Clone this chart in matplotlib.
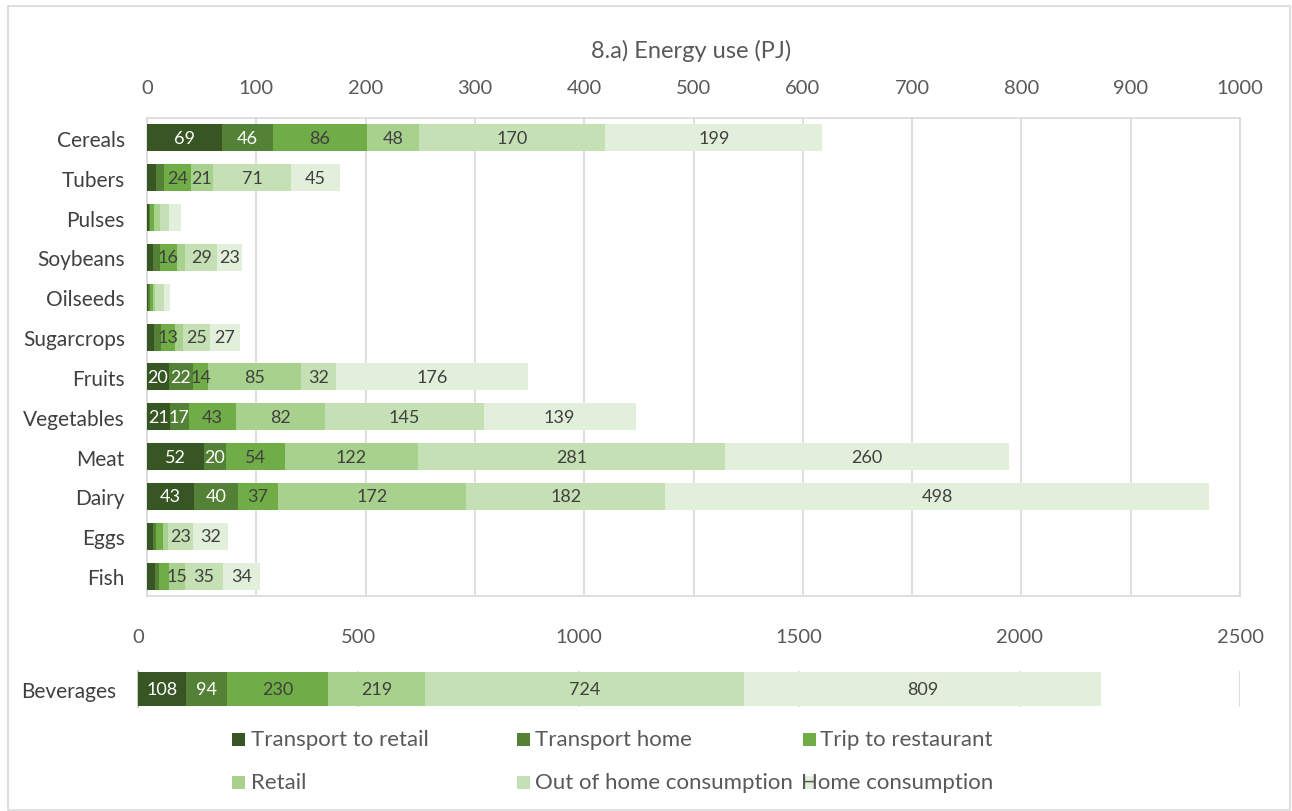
import matplotlib
matplotlib.use('Agg')
import matplotlib.pyplot as plt
from matplotlib.patches import Rectangle
import numpy as np

plt.rcParams['font.family'] = ['Lato', 'DejaVu Sans']

# ---------------- data ----------------
categories = ['Cereals', 'Tubers', 'Pulses', 'Soybeans', 'Oilseeds', 'Sugarcrops',
              'Fruits', 'Vegetables', 'Meat', 'Dairy', 'Eggs', 'Fish']
transport_retail = [69, 8.5, 1.8, 5.5, 1.2, 6.1, 20, 21, 52, 43, 5.2, 7.6]
transport_home = [46, 7.3, 1.2, 6.1, 1.2, 6.7, 22, 17, 20, 40, 3.0, 3.7]
trip_restaurant = [86, 24, 3.7, 16, 3.0, 13, 14, 43, 54, 37, 6.4, 8.5]
retail = [48, 21, 4.9, 7.6, 1.8, 7.0, 85, 82, 122, 172, 4.6, 15]
out_of_home = [170, 71, 8.8, 29, 8.5, 25, 32, 145, 281, 182, 23, 35]
home = [199, 45, 10.6, 23, 5.8, 27, 176, 139, 260, 498, 32, 34]

bev_category = 'Beverages'
bev_values = [108, 94, 230, 219, 724, 809]

series_names = ['Transport to retail', 'Transport home', 'Trip to restaurant',
                'Retail', 'Out of home consumption', 'Home consumption']
series_colors = ['#375623', '#538135', '#70AD47', '#A9D18E', '#C5E0B4', '#E2EFDA']
label_colors = ['white', 'white', '#404040', '#404040', '#404040', '#404040']

main_ticks = list(range(0, 1001, 100))
bev_ticks = list(range(0, 2501, 500))

# ---------------- layout helpers ----------------
W, H = 1292, 812
def fx(px): return px / W
def fy(py): return 1 - py / H

fig = plt.figure(figsize=(W / 100, H / 100), dpi=100)
fig.patches.append(Rectangle((fx(8), fy(811)), fx(1290) - fx(8), fy(7) - fy(811),
                             transform=fig.transFigure, fill=False,
                             edgecolor='#d9d9d9', lw=1.2))

grid_col = '#d9d9d9'
tick_col = '#595959'
cat_col = '#404040'

# ---------------- main chart ----------------
ax = fig.add_axes([fx(147), fy(597), fx(1240) - fx(147), fy(119) - fy(597)])
all_series = [transport_retail, transport_home, trip_restaurant, retail, out_of_home, home]
ypos = np.arange(len(categories))
left = np.zeros(len(categories))
for vals, name, col, lcol in zip(all_series, series_names, series_colors, label_colors):
    vals = np.array(vals, dtype=float)
    bars = ax.barh(ypos, vals, left=left, height=0.68, color=col, edgecolor='none', zorder=3)
    for b, v in zip(bars, vals):
        if v >= 12:
            ax.text(b.get_x() + b.get_width() / 2, b.get_y() + b.get_height() / 2,
                    f'{v:.0f}', ha='center', va='center', fontsize=13, color=lcol, zorder=4)
    left += vals

ax.set_xlim(0, 1000)
ax.set_ylim(len(categories) - 0.5, -0.5)
ax.xaxis.tick_top()
ax.set_xticks(main_ticks)
ax.set_xticklabels([str(t) for t in main_ticks])
ax.set_yticks(ypos)
ax.set_yticklabels(categories)
ax.tick_params(axis='x', length=0, pad=16, labelsize=14.5, colors=tick_col)
ax.tick_params(axis='y', length=0, pad=16, labelsize=15, colors=cat_col)
ax.grid(axis='x', color=grid_col, lw=1.2, zorder=0)
ax.set_axisbelow(True)
for s in ax.spines.values():
    s.set_color(grid_col)
    s.set_linewidth(1.2)

fig.text(fx(691), fy(51), '8.a) Energy use (PJ)', ha='center', va='center',
         fontsize=17, color=tick_col)

# ---------------- beverages chart ----------------
ax2 = fig.add_axes([fx(138), fy(708), fx(1240) - fx(138), fy(672) - fy(708)])
bl = 0.0
for v, col, lcol in zip(bev_values, series_colors, label_colors):
    ax2.barh([0], [v], left=bl, height=0.95, color=col, edgecolor='none', zorder=3)
    ax2.text(bl + v / 2, 0, f'{v}', ha='center', va='center', fontsize=13,
             color=lcol, zorder=4)
    bl += v
ax2.set_xlim(0, 2500)
ax2.set_ylim(-0.5, 0.5)
ax2.xaxis.tick_top()
ax2.set_xticks(bev_ticks)
ax2.set_xticklabels([str(t) for t in bev_ticks])
ax2.set_yticks([0])
ax2.set_yticklabels([bev_category])
ax2.tick_params(axis='x', length=0, pad=19, labelsize=14.5, colors=tick_col)
ax2.tick_params(axis='y', length=0, pad=16, labelsize=15, colors=cat_col)
ax2.grid(axis='x', color=grid_col, lw=1.2, zorder=0)
ax2.set_axisbelow(True)
for k, s in ax2.spines.items():
    if k == 'left':
        s.set_color('#bfbfbf')
        s.set_linewidth(1.2)
    else:
        s.set_visible(False)

# ---------------- legend ----------------
leg_marker_x = [232, 517, 803, 232, 517, 803]
leg_text_x = [251, 535, 820, 251, 535, 801]
leg_y = [740, 740, 740, 783, 783, 783]
for name, col, mx, tx, ly in zip(series_names, series_colors, leg_marker_x, leg_text_x, leg_y):
    fig.patches.append(Rectangle((fx(mx), fy(ly + 6.5)), fx(13), 13 / H,
                                 transform=fig.transFigure, facecolor=col, edgecolor='none'))
    fig.text(fx(tx), fy(ly), name, ha='left', va='center', fontsize=16, color=tick_col)

fig.savefig('out.png', dpi=100)
